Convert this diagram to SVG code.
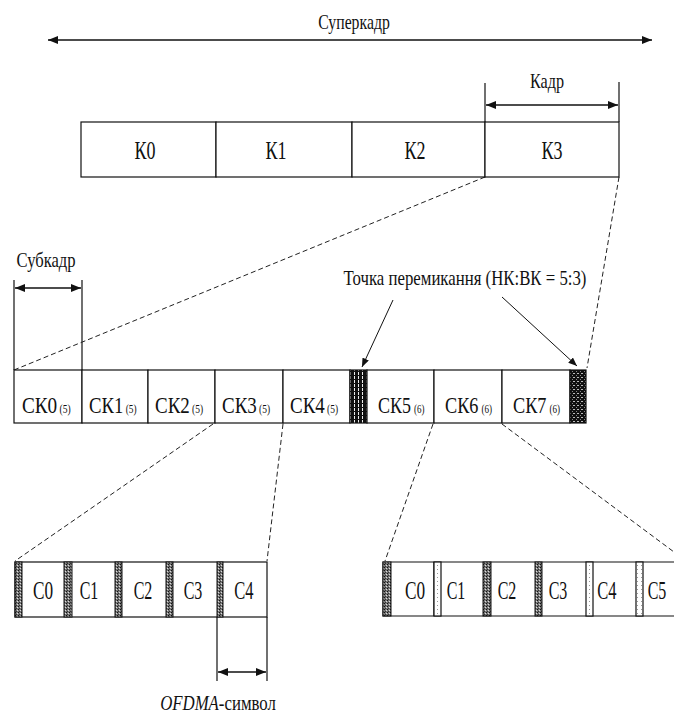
<svg xmlns="http://www.w3.org/2000/svg" width="674" height="716" viewBox="0 0 674 716">
<style>
text{font-family:"Liberation Serif","Times New Roman",serif;fill:#111}
.lbl{font-size:21px}
.big{font-size:25px;text-anchor:middle}
.mid{font-size:24px}
.sub{font-size:12px}
.box{fill:#fff;stroke:#111;stroke-width:1.2}
.ln{stroke:#111;stroke-width:1.2;fill:none}
.dash{stroke:#222;stroke-width:1;stroke-dasharray:5 3;fill:none}
.arr{stroke:#111;stroke-width:1.4;fill:none;marker-start:url(#ah);marker-end:url(#ah)}
.ptr{stroke:#111;stroke-width:1;fill:none;marker-end:url(#ahs)}
.dk{fill:url(#dots);stroke:#111;stroke-width:1}
.lt{fill:url(#lite);stroke:#111;stroke-width:1.2}
</style>
<defs>
<marker id="ah" viewBox="0 0 10 8" refX="10" refY="4" markerWidth="10" markerHeight="8" markerUnits="userSpaceOnUse" orient="auto-start-reverse"><path d="M0,0 L10,4 L0,8 Z" fill="#111"/></marker>
<marker id="ahs" viewBox="0 0 10 8" refX="10" refY="4" markerWidth="9" markerHeight="7" markerUnits="userSpaceOnUse" orient="auto"><path d="M0,0 L10,4 L0,8 Z" fill="#111"/></marker>
<pattern id="dots" width="3" height="3" patternUnits="userSpaceOnUse"><rect width="3" height="3" fill="#777"/><rect width="1" height="1" fill="#111"/><rect x="2" y="1" width="1" height="1" fill="#ddd"/><rect x="1" y="2" width="1" height="1" fill="#333"/></pattern>
<pattern id="lite" width="4" height="4" patternUnits="userSpaceOnUse"><rect width="4" height="4" fill="#fff"/><rect x="1" y="1" width="1" height="1" fill="#999"/></pattern>
<pattern id="vstr" width="4" height="4" patternUnits="userSpaceOnUse"><rect width="4" height="4" fill="#111"/><rect x="2" y="0" width="1" height="3" fill="#eee"/></pattern>
<pattern id="chk" width="4" height="4" patternUnits="userSpaceOnUse"><rect width="4" height="4" fill="#111"/><rect x="1" y="1" width="2" height="1" fill="#bbb"/><rect x="0" y="3" width="1" height="1" fill="#888"/></pattern>
</defs>

<g id="connectors">
<line class="arr" x1="48" y1="40" x2="652" y2="40"/>
<line class="ln" x1="485" y1="83" x2="485" y2="122"/>
<line class="ln" x1="619" y1="82" x2="619" y2="122"/>
<line class="arr" x1="486" y1="105" x2="618" y2="105"/>
<line class="ln" x1="14" y1="280" x2="14" y2="370"/>
<line class="ln" x1="82" y1="280" x2="82" y2="370"/>
<line class="arr" x1="15" y1="288" x2="81" y2="288"/>
<line class="dash" x1="485" y1="177" x2="14" y2="370"/>
<line class="dash" x1="619" y1="177" x2="587" y2="368"/>
<line class="ptr" x1="393" y1="300" x2="362" y2="367"/>
<line class="ptr" x1="502" y1="297" x2="577" y2="366"/>
<line class="dash" x1="213" y1="424" x2="15" y2="561"/>
<line class="dash" x1="283" y1="424" x2="267" y2="561"/>
<line class="dash" x1="433" y1="424" x2="385" y2="561"/>
<line class="dash" x1="502" y1="424" x2="674" y2="552"/>
<line class="ln" x1="217" y1="617" x2="217" y2="681"/>
<line class="ln" x1="267" y1="617" x2="267" y2="681"/>
<line class="arr" x1="218" y1="672" x2="266" y2="672"/>
</g>

<g id="labels">
<text class="lbl" text-anchor="middle" transform="translate(354,29) scale(0.75,1)">Суперкадр</text>
<text class="lbl" text-anchor="middle" transform="translate(547,88) scale(0.77,1)">Кадр</text>
<text class="lbl" text-anchor="middle" transform="translate(46,267) scale(0.79,1)">Субкадр</text>
<text class="lbl" text-anchor="middle" transform="translate(465,285) scale(0.8,1)">Точка перемикання (НК:ВК = 5:3)</text>
<text class="lbl" text-anchor="middle" transform="translate(218,710) scale(0.8,1)"><tspan font-style="italic">OFDMA</tspan>-символ</text>
</g>

<g id="frames">
<g id="K0"><rect class="box" x="81" y="122" width="135" height="55"/><text class="big" transform="translate(145,159) scale(0.72,1)">К0</text></g>
<g id="K1"><rect class="box" x="216" y="122" width="136" height="55"/><text class="big" transform="translate(276,159) scale(0.72,1)">К1</text></g>
<g id="K2"><rect class="box" x="352" y="122" width="133" height="55"/><text class="big" transform="translate(415,159) scale(0.72,1)">К2</text></g>
<g id="K3"><rect class="box" x="485" y="122" width="134" height="55"/><text class="big" transform="translate(552,159) scale(0.72,1)">К3</text></g>
</g>

<g id="subframes">
<g id="SK0"><rect class="box" x="14" y="370" width="68" height="53"/><text transform="translate(22,413) scale(0.8,1)"><tspan class="mid">СК0</tspan><tspan class="sub" dx="3">(5)</tspan></text></g>
<g id="SK1"><rect class="box" x="82" y="370" width="66" height="53"/><text transform="translate(89,413) scale(0.78,1)"><tspan class="mid">СК1</tspan><tspan class="sub" dx="3">(5)</tspan></text></g>
<g id="SK2"><rect class="box" x="148" y="370" width="67" height="53"/><text transform="translate(155,413) scale(0.79,1)"><tspan class="mid">СК2</tspan><tspan class="sub" dx="3">(5)</tspan></text></g>
<g id="SK3"><rect class="box" x="215" y="370" width="68" height="53"/><text transform="translate(222,413) scale(0.79,1)"><tspan class="mid">СК3</tspan><tspan class="sub" dx="3">(5)</tspan></text></g>
<g id="SK4"><rect class="box" x="283" y="370" width="67" height="53"/><text transform="translate(290,413) scale(0.79,1)"><tspan class="mid">СК4</tspan><tspan class="sub" dx="3">(5)</tspan></text></g>
<g id="SW1"><rect x="350" y="370" width="17" height="53" fill="url(#vstr)" stroke="#111" stroke-width="1.2"/></g>
<g id="SK5"><rect class="box" x="367" y="370" width="67" height="53"/><text transform="translate(378,413) scale(0.75,1)"><tspan class="mid">СК5</tspan><tspan class="sub" dx="4">(6)</tspan></text></g>
<g id="SK6"><rect class="box" x="434" y="370" width="68" height="53"/><text transform="translate(445,413) scale(0.76,1)"><tspan class="mid">СК6</tspan><tspan class="sub" dx="4">(6)</tspan></text></g>
<g id="SK7"><rect class="box" x="502" y="370" width="68" height="53"/><text transform="translate(513,413) scale(0.76,1)"><tspan class="mid">СК7</tspan><tspan class="sub" dx="4">(6)</tspan></text></g>
<g id="SW2"><rect x="570" y="370" width="16" height="53" fill="url(#chk)" stroke="#111" stroke-width="1.2"/></g>
</g>

<g id="symbols-a">
<rect class="box" x="15" y="562" width="252" height="55"/>
<g id="a-C0"><rect class="dk" x="15" y="562" width="7" height="55"/><text class="big" transform="translate(43,599) scale(0.69,1)">С0</text></g>
<g id="a-C1"><rect class="dk" x="64" y="562" width="8" height="55"/><text class="big" transform="translate(89,599) scale(0.64,1)">С1</text></g>
<g id="a-C2"><rect class="dk" x="115" y="562" width="7" height="55"/><text class="big" transform="translate(143,599) scale(0.64,1)">С2</text></g>
<g id="a-C3"><rect class="dk" x="166" y="562" width="7" height="55"/><text class="big" transform="translate(193,599) scale(0.64,1)">С3</text></g>
<g id="a-C4"><rect class="dk" x="217" y="562" width="6" height="55"/><text class="big" transform="translate(244,599) scale(0.66,1)">С4</text></g>
</g>

<g id="symbols-b">
<path class="ln" d="M674,562 H383 V616 H674"/>
<g id="b-C0"><rect class="dk" x="383" y="562" width="8" height="54"/><text class="big" transform="translate(415,599) scale(0.69,1)">С0</text><line class="ln" x1="434" y1="562" x2="434" y2="616"/></g>
<g id="b-C1"><rect class="lt" x="434" y="562" width="7" height="54"/><text class="big" transform="translate(456,599) scale(0.64,1)">С1</text></g>
<g id="b-C2"><rect class="dk" x="483" y="562" width="8" height="54"/><text class="big" transform="translate(507,599) scale(0.64,1)">С2</text></g>
<g id="b-C3"><rect class="dk" x="535" y="562" width="7" height="54"/><text class="big" transform="translate(558,599) scale(0.64,1)">С3</text></g>
<g id="b-C4"><rect class="lt" x="586" y="562" width="7" height="54"/><text class="big" transform="translate(607,599) scale(0.66,1)">С4</text></g>
<g id="b-C5"><rect class="lt" x="636" y="562" width="7" height="54"/><text class="big" transform="translate(657,599) scale(0.64,1)">С5</text></g>
</g>
</svg>
